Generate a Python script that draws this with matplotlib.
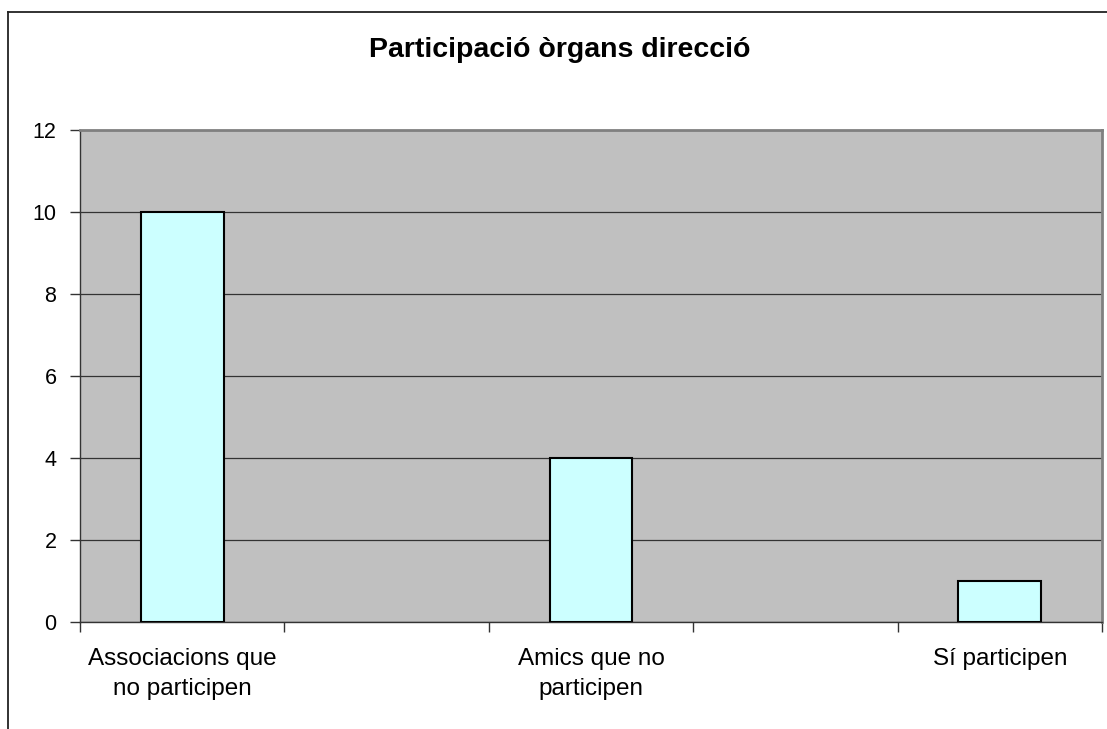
import matplotlib
matplotlib.use("Agg")
import matplotlib.pyplot as plt
from matplotlib.lines import Line2D
import numpy as np

plt.rcParams["font.family"] = ["Liberation Sans", "DejaVu Sans"]

# dades del gràfic
categories = ["Associacions que\nno participen", "Amics que no\nparticipen", "Sí participen"]
values = [10, 4, 1]
y_ticks = [0, 2, 4, 6, 8, 10, 12]
title = "Participació òrgans direcció"

W, H = 1107, 729
fig = plt.figure(figsize=(W / 100, H / 100), dpi=100)
fig.patch.set_facecolor("white")

# àrea del gràfic (en píxels de la imatge)
left, right, top, bottom = 80, 1102, 130, 622
ax = fig.add_axes([left / W, 1 - bottom / H, (right - left) / W, (bottom - top) / H])
ax.set_facecolor("#C0C0C0")

# cada categoria ocupa dues franges, com a l'original
pos = np.arange(len(categories)) * 2
ax.bar(pos, values, width=0.405, color="#CCFFFF", edgecolor="black", linewidth=1.5, zorder=3)

ax.set_xlim(-0.5, pos[-1] + 0.5)
ax.set_ylim(y_ticks[0], y_ticks[-1])
ax.set_yticks(y_ticks)
ax.set_yticklabels([str(v) for v in y_ticks], fontsize=15.5)
ax.yaxis.grid(True, color="#333333", linewidth=0.9, zorder=1)
ax.set_axisbelow(True)

ax.set_xticks(np.arange(-0.5, pos[-1] + 1, 1))
ax.set_xticklabels([])
ax.set_xticks(pos, minor=True)
ax.set_xticklabels(categories, minor=True, fontsize=17.5, linespacing=1.45)
ax.tick_params(axis="x", which="minor", length=0, pad=19)
ax.tick_params(axis="x", which="major", length=7, width=1, color="#333333", direction="out")
ax.tick_params(axis="y", length=7, width=1, color="#333333", direction="out", pad=10)

for s in ["left", "bottom"]:
    ax.spines[s].set_color("#333333")
    ax.spines[s].set_linewidth(1.0)
for s in ["top", "right"]:
    ax.spines[s].set_color("#808080")
    ax.spines[s].set_linewidth(2.0)

# vora exterior del gràfic (tallada a dreta i a baix)
fig.add_artist(Line2D([8 / W, 8 / W], [0, 1 - 12 / H], color="#222222", linewidth=1.3))
fig.add_artist(Line2D([8 / W, 1], [1 - 12 / H, 1 - 12 / H], color="#222222", linewidth=1.3))

fig.text(560 / W, 1 - 50 / H, title, ha="center", va="center", fontsize=20.5, fontweight="bold")

fig.savefig("out.png", dpi=100)
